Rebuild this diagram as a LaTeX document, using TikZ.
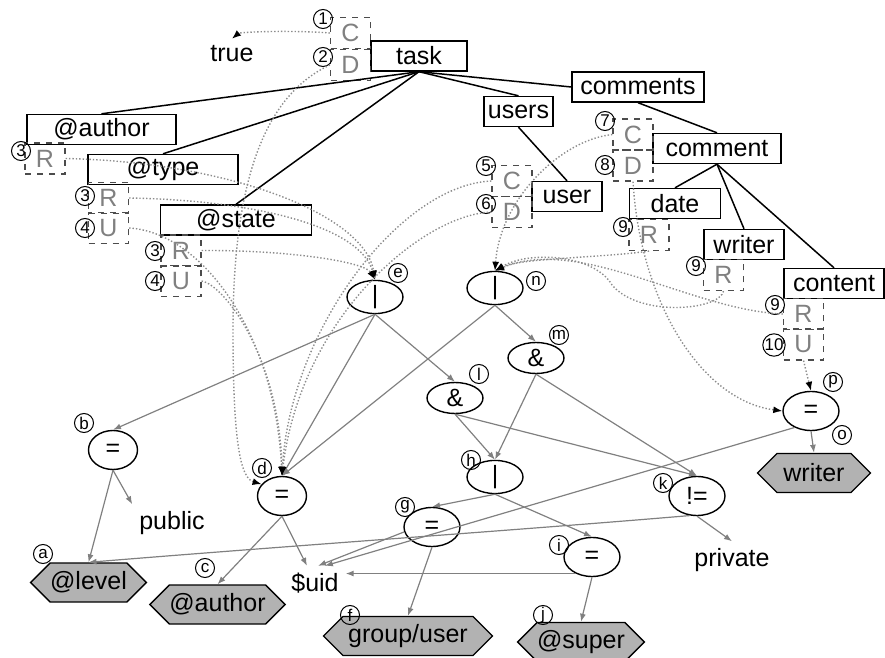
\documentclass[tikz,border=0pt]{standalone}
\usepackage{fontspec}
\setmainfont{Liberation Sans}
\usetikzlibrary{arrows.meta,shapes.geometric,shapes.symbols}
\definecolor{edgegray}{gray}{0.5}
\definecolor{leafgray}{gray}{0.7}

\begin{document}
\begin{tikzpicture}[x=0.5pt,y=-0.5pt,
  every node/.style={font=\fontsize{12.5}{14}\selectfont},
  elem/.style={draw,line width=0.7pt,inner sep=1pt,minimum height=15pt},
  acc/.style={draw=black!70,dashed,line width=0.6pt,text=black!50,minimum width=20pt,minimum height=15.5pt,inner sep=0pt},
  num/.style={circle,draw,line width=0.5pt,inner sep=0pt,minimum size=9.5pt,font=\fontsize{8.5}{8.5}\selectfont},
  op/.style={ellipse,draw,line width=0.7pt,minimum width=28pt,minimum height=15.5pt,inner sep=0pt},
  eq/.style={op,minimum height=19.5pt},
  leaf/.style={signal,signal to=east and west,signal pointer angle=90,draw,fill=leafgray,line width=0.7pt,minimum width=56.5pt,minimum height=19.5pt,inner sep=0pt},
  hier/.style={line width=0.75pt},
  opedge/.style={draw=edgegray,line width=0.6pt,-{Latex[length=4pt,width=3pt]}},
  dep/.style={draw=black!45,densely dotted,line width=0.7pt,-{Latex[length=4.5pt,width=3.5pt,color=black]}}]
\useasboundingbox (0,0) rectangle (885,658);

\node[elem,minimum width=48pt] (task) at (419,56) {task};
\node[acc] (taskC) at (350.5,33) {C};
\node[acc] (taskD) at (350.5,65) {D};
\node[num] (n1) at (323,19) {1};
\node[num] (n2) at (323,57) {2};
\node (true) at (232,54) {true};

\node[elem,minimum width=74.5pt] (author) at (101.5,129.5) {@author};
\node[acc] (authorR) at (45,158.5) {R};
\node[num] (n3a) at (21,151) {3};
\node[elem,minimum width=75pt] (type) at (163,169.5) {@type};
\node[acc] (typeR) at (108.5,198) {R};
\node[acc] (typeU) at (108.5,228) {U};
\node[num] (n3t) at (85,196) {3};
\node[num] (n4t) at (85,228) {4};
\node[elem,minimum width=75.5pt] (state) at (236,220) {@state};
\node[acc] (stateR) at (181,250.5) {R};
\node[acc] (stateU) at (181,281) {U};
\node[num] (n3s) at (155,251) {3};
\node[num] (n4s) at (155,281) {4};

\node[elem,minimum width=34.5pt] (users) at (518.5,111.5) {users};
\node[elem,minimum width=35pt] (user) at (567,196.5) {user};
\node[acc] (userC) at (512,181) {C};
\node[acc] (userD) at (512,212) {D};
\node[num] (n5) at (486,166) {5};
\node[num] (n6) at (486,204) {6};

\node[elem,minimum width=66pt] (comments) at (638,87) {comments};
\node[elem,minimum width=64pt] (comment) at (717,148.5) {comment};
\node[acc] (commC) at (633,134.5) {C};
\node[acc] (commD) at (633,165.5) {D};
\node[num] (n7) at (605,121) {7};
\node[num] (n8) at (605,165) {8};
\node[elem,minimum width=45.5pt] (date) at (675,203.5) {date};
\node[acc] (dateR) at (649,235) {R};
\node[num] (n9d) at (623,227) {9};
\node[elem,minimum width=40pt] (writer) at (744,244.5) {writer};
\node[acc] (writerR) at (723.5,275) {R};
\node[num] (n9w) at (696,266) {9};
\node[elem,minimum width=50pt] (content) at (834,283.5) {content};
\node[acc] (contentR) at (803.5,314) {R};
\node[acc] (contentU) at (803.5,344.5) {U};
\node[num] (n9c) at (775,305) {9};
\node[num] (n10) at (774,345) {10};

\node[op] (e) at (375,297) {|};
\node[op] (n) at (495,288) {|};
\node[op] (m) at (536,358) {\&};
\node[op] (l) at (455,398) {\&};
\node[op] (h) at (495,477) {|};
\node[eq] (k) at (697,496) {!=};
\node[eq] (g) at (432,527) {=};
\node[eq] (i) at (592,557) {=};
\node[eq] (p) at (811,411) {=};
\node[eq,minimum width=24.5pt] (b) at (113,450) {=};
\node[eq,minimum width=24.5pt] (d) at (282,496) {=};

\node[leaf] (a) at (88.5,582.5) {@level};
\node[leaf] (c) at (217.5,604.5) {@author};
\node[leaf,minimum width=84.5pt] (f) at (408,636) {group/user};
\node[leaf] (j) at (581,642) {@super};
\node[leaf] (o) at (814,473) {writer};
\node (public) at (172,523) {public};
\node (uid) at (315,583) {\$uid};
\node (private) at (732,560) {private};

\node[num] (la) at (43,554) {a};
\node[num] (lb) at (84,423) {b};
\node[num] (lc) at (205,568) {c};
\node[num] (ld) at (262,468) {d};
\node[num] (le) at (398,273) {e};
\node[num] (lf) at (350,615) {f};
\node[num] (lg) at (405,507) {g};
\node[num] (lh) at (471,460) {h};
\node[num] (li) at (559,545) {i};
\node[num] (lj) at (543,615) {j};
\node[num] (lk) at (663,483) {k};
\node[num] (ll) at (479,374) {l};
\node[num] (lm) at (559,335) {m};
\node[num] (ln) at (536,281) {n};
\node[num] (lo) at (842,435) {o};
\node[num] (lp) at (833,382) {p};

\draw[hier] (task.south) -- (author.north);
\draw[hier] (task.south) -- (type.north);
\draw[hier] (task.south) -- (state.north);
\draw[hier] (task.south) -- (users.north);
\draw[hier] (task.south) -- (comments.west);
\draw[hier] (users.south) -- (user.north);
\draw[hier] (comments.south) -- (comment.north);
\draw[hier] (comment.south) -- (date.north);
\draw[hier] (comment.south) -- (writer.north);
\draw[hier] (comment.south) -- (content.north);

\draw[opedge] (e.south) -- (b.north);
\draw[opedge] (e.south) -- (d.north);
\draw[opedge] (e.south) -- (l.north);
\draw[opedge] (n.south) -- (d.north);
\draw[opedge] (n.south) -- (m.north);
\draw[opedge] (l.south) -- (h.north);
\draw[opedge] (l.south) -- (k.north);
\draw[opedge] (m.south) -- (h.north);
\draw[opedge] (m.south) -- (k.north);
\draw[opedge] (h.south) -- (g.north);
\draw[opedge] (h.south) -- (i.north);
\draw[opedge] (g.south) -- (f.north);
\draw[opedge] (g.190) -- (uid.80);
\draw[opedge] (i.225) -- (i.225 -| uid.east);
\draw[opedge] (i.south) -- (j.north);
\draw[opedge] (d.south) -- (c.north);
\draw[opedge] (d.south) -- (uid.115);
\draw[opedge] (b.south) -- (a.north);
\draw[opedge] (b.south) -- (public.north west);
\draw[opedge] (k.250) .. controls (520,530) and (300,545) .. (a.north);
\draw[opedge] (k.south) -- (private.north);
\draw[opedge] (p.south) -- (o.north);
\draw[opedge] (p.225) -- (uid.60);

\draw[dep] (taskC.west) .. controls (290,30) and (240,32) .. (true.north);
\draw[dep] (taskD.west) .. controls (265,95) and (233,180) .. (233,330) .. controls (233,440) and (240,478) .. (d.150);
\draw[dep] (authorR.east) .. controls (230,162) and (365,215) .. (e.north);
\draw[dep] (typeR.east) .. controls (250,200) and (360,225) .. (e.north);
\draw[dep] (stateR.east) .. controls (290,250) and (365,262) .. (e.north);
\draw[dep] (typeU.east) .. controls (200,232) and (275,330) .. (d.north);
\draw[dep] (stateU.east) .. controls (225,285) and (280,360) .. (d.north);
\draw[dep] (userC.west) .. controls (400,185) and (290,330) .. (d.north);
\draw[dep] (userD.west) .. controls (420,215) and (300,320) .. (d.north);
\draw[dep] (commC.west) .. controls (560,140) and (500,200) .. (n.north);
\draw[dep] (dateR.south) .. controls (600,258) and (520,258) .. (n.north);
\draw[dep] (writerR.south) .. controls (720,310) and (640,318) .. (612,285) .. controls (595,255) and (530,250) .. (n.north);
\draw[dep] (contentR.west) .. controls (690,310) and (580,235) .. (n.north);
\draw[dep] (commD.south) .. controls (640,300) and (700,400) .. (p.west);
\draw[dep] (contentU.south) -- (p.north);
\end{tikzpicture}
\end{document}
